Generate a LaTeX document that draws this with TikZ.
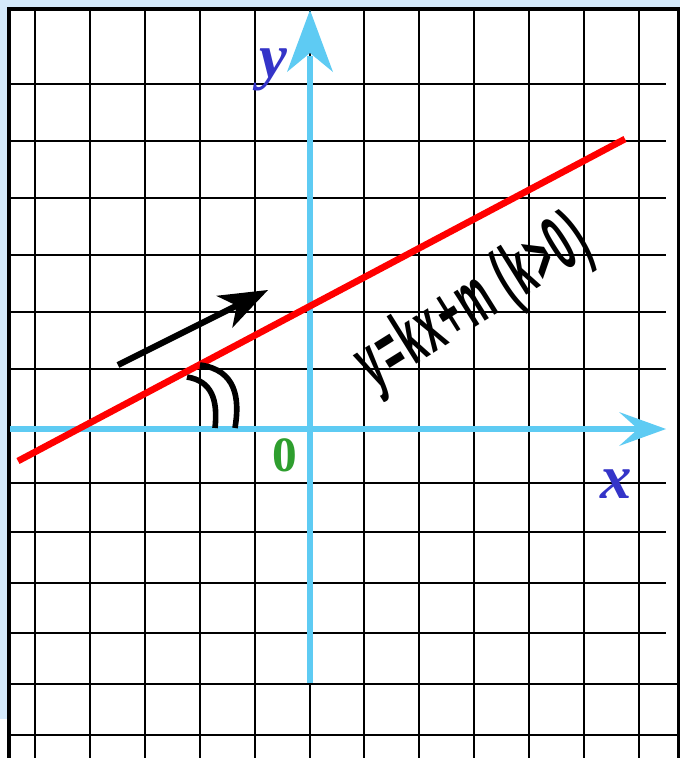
\documentclass[tikz,border=0pt]{standalone}
\usepackage{fontspec}
\setmainfont{Liberation Serif}
\newfontfamily\lblfont[LetterSpace=8]{Liberation Sans}
\definecolor{bgblue}{RGB}{213,234,251}
\definecolor{axblue}{RGB}{94,203,243}
\definecolor{lblblue}{RGB}{52,52,200}
\definecolor{zgreen}{RGB}{46,158,46}
\begin{document}
\begin{tikzpicture}[x=0.75pt,y=-0.75pt,
  gridline/.style={line width=1.5pt,black},
  frameline/.style={line width=2.8pt,black},
  axisline/.style={line width=5.2pt,axblue},
  axishead/.style={fill=axblue,draw=none},
  redline/.style={line width=5pt,red},
  blackarrow/.style={line width=4.6pt,black},
  anglemark/.style={line width=4.2pt,black},
  axlabel/.style={inner sep=0pt,text=lblblue,font=\fontsize{47}{47}\selectfont\bfseries\itshape}]
\useasboundingbox (0,0) rectangle (680,758);
% background
\fill[white] (0,0) rectangle (680,758);
\fill[bgblue] (0,0) rectangle (680,7);
\fill[bgblue] (0,0) rectangle (7,719);
% grid
\foreach \gx in {35,90,145,200,255,310,364,419,474,529,584,639}
  \draw[gridline] (\gx,10) -- (\gx,758);
\foreach \gy in {84,141,198,255,312,369,483,532,583,633}
  \draw[gridline] (10,\gy) -- (666,\gy);
\foreach \gy in {684,735}
  \draw[gridline] (10,\gy) -- (678,\gy);
% frame
\draw[frameline] (7,9) -- (680,9);
\draw[frameline] (8.7,7) -- (8.7,758);
\draw[frameline] (678.5,7) -- (678.5,758);
% axes
\coordinate (ytop) at (310,10);
\coordinate (ybot) at (310,683);
\coordinate (xleft) at (10,429);
\coordinate (xright) at (666,429);
\draw[axisline] (ybot) -- (310,56);
\fill[axishead] (ytop) -- (333,72) -- (310,53) -- (287,72) -- cycle;
\draw[axisline] (xleft) -- (640,429);
\fill[axishead] (xright) -- (619,446) -- (638,429) -- (619,412) -- cycle;
% red line
\coordinate (ra) at (18,461);
\coordinate (rb) at (625,139);
\draw[redline] (ra) -- (rb);
% black arrow
\coordinate (aa) at (118,365);
\coordinate (at) at (268,290);
\draw[blackarrow] (aa) -- (239,304.5);
\fill[black] (at) -- (216.2,295.8) -- (236.7,305.6) -- (232.2,328.0) -- cycle;
% angle marks
\draw[anglemark] (187,377) .. controls (212,381) and (218,400) .. (215,428);
\draw[anglemark] (200,365) .. controls (236,370) and (240,398) .. (235,428);
% labels
\node[axlabel] (ylab) at (273,70) {y};
\node[axlabel] (xlab) at (616,484) {x};
\node[inner sep=0pt,text=zgreen,font=\fontsize{37}{37}\selectfont\bfseries] (orig) at (285,455) {0};
\node[inner sep=0pt,rotate=32] (eq) at (474,305)
  {\scalebox{0.47}[1]{\lblfont\bfseries\fontsize{57.75}{58}\selectfont y=kx+m (k>0)}};
\end{tikzpicture}
\end{document}
